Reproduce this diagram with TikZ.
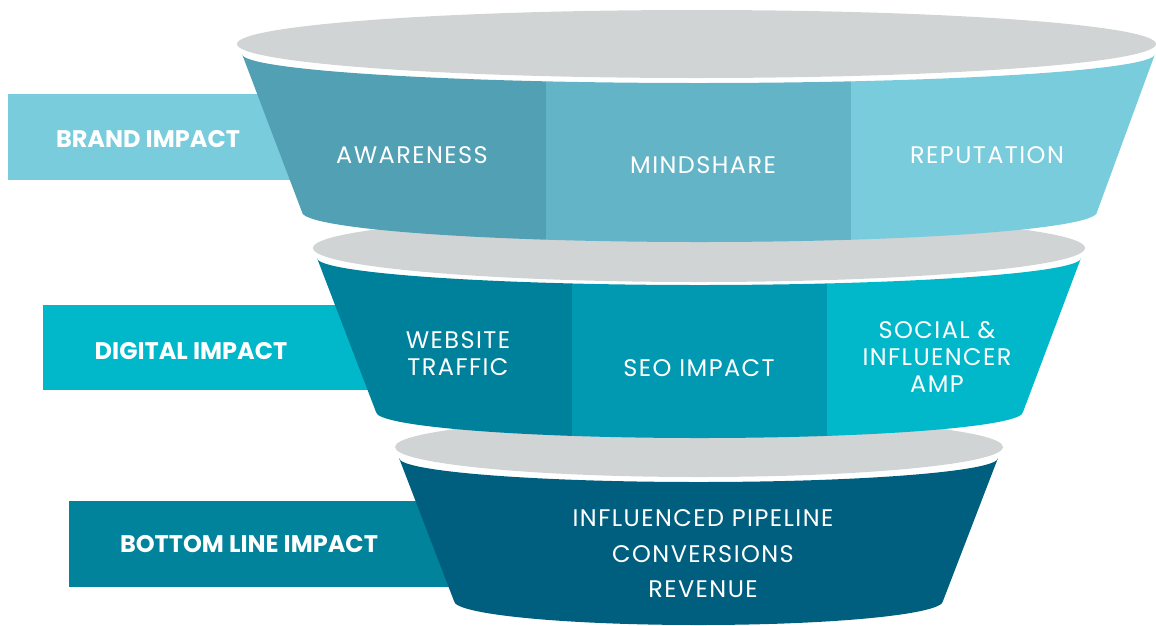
\documentclass[tikz,border=0pt]{standalone}
\usepackage{fontspec}
\setmainfont{Poppins}
\newfontfamily\segfont[LetterSpace=6]{Poppins}
\usetikzlibrary{calc}
\definecolor{lidgrey}{HTML}{D1D4D5}
\definecolor{brandA}{HTML}{52A0B3}
\definecolor{brandB}{HTML}{62B4C6}
\definecolor{brandC}{HTML}{79CCDC}
\definecolor{digitA}{HTML}{00819B}
\definecolor{digitB}{HTML}{0099B1}
\definecolor{digitC}{HTML}{00B8C9}
\definecolor{bottomA}{HTML}{005F7F}
\definecolor{bottomtag}{HTML}{00839B}
% band: top arc (cx,cy:rx:ry), bottom arc (cx,cy:rx:ry)
\def\bandpath(#1,#2:#3:#4)(#5,#6:#7:#8){(#1-#3,#2) arc[start angle=180,end angle=0,x radius=#3,y radius=#4] -- (#5+#7,#6) arc[start angle=0,end angle=180,x radius=#7,y radius=#8] -- cycle}
\tikzset{
	tag/.style={text=white, font=\bfseries\fontsize{24}{28}\selectfont},
	seg/.style={text=white, align=center, font=\segfont\fontsize{24}{27}\selectfont},
}

\begin{document}
\begin{tikzpicture}[x=1pt, y=-1pt]
		%%%%% START %%%%%
		\useasboundingbox (0, 0) rectangle (1156, 625);
		
		% side tags
		\fill[brandC] (8, 94) rectangle (300, 180);
		\fill[digitC] (43, 305) rectangle (385, 390);
		\fill[bottomtag] (69, 501) rectangle (460, 587);
		\node[tag] (brand) at (148, 139) {BRAND IMPACT};
		\node[tag] (digital) at (191, 351) {DIGITAL IMPACT};
		\node[tag] (bottomline) at (249, 544) {BOTTOM LINE IMPACT};
		
		% bottom band
		\fill[lidgrey] (699, 447) ellipse [x radius=304, y radius=30];
		\fill[bottomA] \bandpath(698.5,458:299.5:24)(698.5,601:244.5:24);
		
		% digital band
		\fill[lidgrey] (699, 248) ellipse [x radius=386, y radius=34];
		\begin{scope}
			\clip \bandpath(699,258:382:27)(699.5,412:323.5:26);
			\fill[digitA] (300, 240) rectangle (572, 450);
			\fill[digitB] (572, 240) rectangle (827, 450);
			\fill[digitC] (827, 240) rectangle (1100, 450);
		\end{scope}
		
		% brand band
		\fill[lidgrey] (696.5, 44) ellipse [x radius=459.5, y radius=34];
		\begin{scope}
			\clip \bandpath(698.5,54:456.5:29)(699.5,212:397.5:30);
			\fill[brandA] (230, 40) rectangle (546, 250);
			\fill[brandB] (546, 40) rectangle (851, 250);
			\fill[brandC] (851, 40) rectangle (1160, 250);
		\end{scope}
		
		\node[seg] (awareness) at (412, 155) {AWARENESS};
		\node[seg] (mindshare) at (703, 165) {MINDSHARE};
		\node[seg] (reputation) at (987, 155) {REPUTATION};
		
		\node[seg] (website) at (458, 354) {WEBSITE\\TRAFFIC};
		\node[seg] (seo) at (699, 368) {SEO IMPACT};
		\node[seg] (social) at (937, 357) {SOCIAL \&\\INFLUENCER\\AMP};
		
		\node[seg, font=\segfont\fontsize{24}{35.5}\selectfont] (pipeline) at (703, 554) {INFLUENCED PIPELINE\\CONVERSIONS\\REVENUE};
		%%%%% END %%%%%
\end{tikzpicture}
\end{document}
